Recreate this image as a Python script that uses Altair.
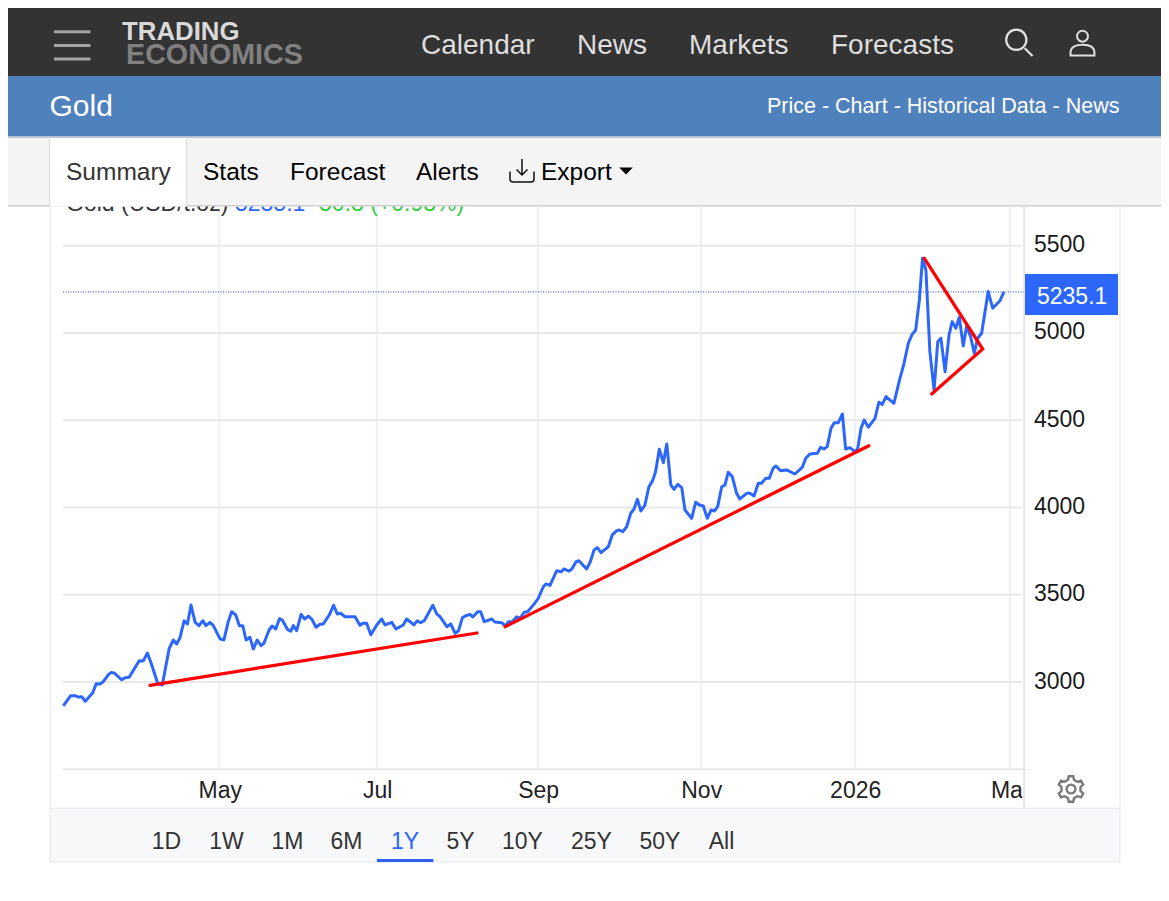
import math
import altair as alt
import pandas as pd

# ---- values -----------------------------------------------------------------
# DAYS counts days since 1 March 2025
DAYS = [0.1,3.0,4.7,6.0,7.3,8.7,11.6,12.9,14.4,15.7,17.7,18.7,19.9,22.9,24.2,25.8,29.7,31.3,32.9,34.6,
        36.9,38.7,41.4,43.0,44.3,45.6,47.2,48.5,49.9,51.5,53.0,54.5,55.7,57.3,58.6,61.2,62.7,64.4,65.7,67.3,
        68.7,70.0,71.3,72.8,74.1,75.6,77.1,78.2,80.2,81.4,82.8,84.2,85.3,87.3,88.6,89.6,90.9,92.6,94.0,95.4,
        96.7,98.4,99.9,101.2,103.5,105.2,106.6,107.9,109.6,113.5,115.4,116.5,118.0,119.6,121.9,123.8,125.1,127.7,129.3,132.1,
        133.4,136.2,137.5,138.8,140.2,143.5,145.0,146.3,148.9,150.4,152.1,153.4,154.9,156.2,157.8,158.9,160.8,161.9,163.3,166.2,
        167.4,170.0,171.5,172.6,174.1,175.8,177.1,178.7,180.0,182.2,184.1,186.0,187.0,188.5,191.0,192.6,193.7,195.6,196.6,198.2,
        199.3,202.2,203.5,205.0,206.2,207.6,210.3,211.8,213.4,214.4,215.7,217.2,218.7,219.9,221.2,222.5,224.0,225.5,226.9,228.0,
        229.4,230.9,232.2,233.7,234.9,236.3,237.8,239.0,241.5,243.0,244.4,245.9,247.5,249.0,250.3,251.6,253.2,254.5,255.8,257.4,
        259.1,260.4,263.1,264.4,266.0,267.7,269.0,270.6,272.0,273.6,274.7,276.5,278.9,282.2,285.1,286.5,288.2,291.1,292.4,293.7,
        295.0,296.5,297.8,299.4,301.0,302.3,304.0,306.0,307.0,308.3,309.5,311.1,313.6,315.1,316.4,317.8,320.8,323.1,324.6,326.3,
        327.8,329.1,330.5,331.7,333.0,334.5,336.1,337.5,338.7,340.3,341.8,343.0,344.4,345.7,347.2,348.5,350.0,351.4,352.7,354.2,
        356.7,358.4,361.2,362.7]
PRICES = [2863,2922,2922,2914,2916,2890,2939,2990,2989,3002,3042,3054,3052,3013,3025,3027,3122,3121,3166,3098,
          2993,2983,3193,3241,3218,3254,3351,3333,3441,3342,3323,3351,3323,3342,3323,3247,3241,3346,3403,3384,
          3323,3323,3241,3256,3189,3241,3208,3222,3298,3321,3304,3363,3355,3302,3291,3323,3294,3388,3361,3378,
          3361,3314,3331,3333,3384,3440,3390,3394,3374,3374,3325,3337,3337,3271,3327,3361,3327,3342,3304,3327,
          3361,3327,3351,3340,3351,3440,3390,3374,3317,3333,3279,3294,3369,3380,3388,3373,3403,3403,3346,3361,
          3344,3340,3321,3346,3346,3374,3365,3400,3403,3441,3480,3546,3562,3554,3638,3631,3648,3636,3646,3688,
          3695,3648,3686,3757,3770,3741,3775,3843,3867,3871,3861,3890,3967,3990,4047,3980,4014,4119,4154,4205,
          4334,4257,4364,4129,4104,4133,4114,3986,3938,4030,4014,4009,3938,3986,3980,4005,4119,4129,4202,4177,
          4081,4049,4081,4081,4066,4139,4139,4167,4167,4225,4238,4211,4215,4192,4230,4282,4307,4311,4345,4335,
          4349,4454,4486,4486,4536,4335,4343,4320,4335,4454,4501,4460,4511,4603,4591,4635,4597,4740,4822,4941,
          4993,5017,5189,5428,5361,4893,4673,4950,4970,4778,4989,5065,5027,5090,4926,5040,4979,4884,4970,4998,
          5237,5142,5185,5235]
LAST_PRICE = 5235.1
TREND_DAYS = [[33.9, 160.5], [171.3, 311.3], [335.2, 354.6, 332.4]]
TREND_PRICES = [[2981, 3281], [3317, 4354], [4650, 4908, 5428]]
Y_TICKS = [3000, 3500, 4000, 4500, 5000, 5500]
Y_GRID = [2500, 3000, 3500, 4000, 4500, 5000, 5500]
X_TICK_DAYS = [61, 122, 184, 245, 306, 365]
X_TICK_LABELS = ["May", "Jul", "Sep", "Nov", "2026", "Mar"]
NAV = ["Calendar", "News", "Markets", "Forecasts"]
TABS = ["Summary", "Stats", "Forecast", "Alerts", "Export"]
RANGES = ["1D", "1W", "1M", "6M", "1Y", "5Y", "10Y", "25Y", "50Y", "All"]

# ---- helpers ----------------------------------------------------------------
BLUE = "#2d66fa"
FONT = "Liberation Sans"
M = 8  # page margin: every page position below is given from the window's corner


x_scale = alt.Scale(
    domain=[0] + X_TICK_DAYS,
    range=[p - M for p in [63, 219.5, 377, 538, 701, 855, 1010]],
    nice=False, zero=False,
)
y_scale = alt.Scale(domain=[2500, 5500], range=[769.3 - M, 245.7 - M], nice=False, zero=False)
X = alt.X("day:Q", scale=x_scale, axis=None)
Y = alt.Y("price:Q", scale=y_scale, axis=None)
one = pd.DataFrame({"a": [0]})


def val(p):
    return alt.value(p - M)


def rects(rows):
    df = pd.DataFrame(rows, columns=["x", "x2", "y", "y2", "c"])
    df[["x", "x2", "y", "y2"]] -= M
    return alt.Chart(df).mark_rect().encode(
        x=alt.X("x:Q", scale=None, axis=None), x2="x2:Q",
        y=alt.Y("y:Q", scale=None, axis=None), y2="y2:Q",
        color=alt.Color("c:N", scale=None),
    )


def texts(rows, align="left", weight="normal"):
    df = pd.DataFrame(rows, columns=["t", "x", "y", "s", "c"])
    df[["x", "y"]] -= M
    return alt.Chart(df).mark_text(align=align, baseline="alphabetic", font=FONT, fontWeight=weight).encode(
        x=alt.X("x:Q", scale=None, axis=None),
        y=alt.Y("y:Q", scale=None, axis=None),
        text="t:N",
        size=alt.Size("s:Q", scale=None),
        color=alt.Color("c:N", scale=None),
    )


def icon(path, cx, cy, extent, stroke=None, width=2, fill=None):
    kw = {"shape": path, "size": (2 * extent) ** 2, "opacity": 1}
    if fill:
        kw.update(filled=True, fill=fill, strokeWidth=0)
    else:
        kw.update(filled=False, stroke=stroke, strokeWidth=width)
    return alt.Chart(one).mark_point(**kw).encode(x=val(cx), y=val(cy))


# ---- chart body -------------------------------------------------------------
series = pd.DataFrame({"day": DAYS, "price": PRICES})
ticks = pd.DataFrame({"day": X_TICK_DAYS, "label": X_TICK_LABELS})

v_grid = alt.Chart(ticks).mark_rule(color="#eef2f7", strokeWidth=2).encode(
    x=X, y=val(206), y2=val(769))
h_grid = alt.Chart(pd.DataFrame({"price": Y_GRID})).mark_rule(color="#e8e8e8", strokeWidth=2).encode(
    y=Y, x=val(63), x2=val(1022))
axis_end = alt.Chart(pd.DataFrame({"price": [2500]})).mark_rule(color="#e8e8e8", strokeWidth=1).encode(
    y=Y, x=val(1022), x2=val(1031))
last_line = alt.Chart(pd.DataFrame({"price": [LAST_PRICE]})).mark_rule(
    color="#1f45e0", strokeWidth=1, strokeDash=[1, 1.5]).encode(y=Y, x=val(63), x2=val(1024))
line = alt.Chart(series).mark_line(color=BLUE, strokeWidth=3, strokeJoin="round").encode(
    x=X, y=Y)
trend_layers = [
    alt.Chart(pd.DataFrame({"day": ds, "price": ps, "o": range(len(ds))}))
    .mark_line(color="#ff0000", strokeWidth=3.2, strokeCap="round")
    .encode(x=X, y=Y, order="o:Q")
    for ds, ps in zip(TREND_DAYS, TREND_PRICES)
]
y_labels = alt.Chart(pd.DataFrame({"price": Y_TICKS})).mark_text(
    align="left", baseline="alphabetic", font=FONT, fontSize=23, dy=6.5, color="#1a1a1a"
).encode(y=Y, x=val(1034), text=alt.Text("price:Q", format="d"))
x_labels = alt.Chart(ticks).mark_text(
    align="center", baseline="alphabetic", font=FONT, fontSize=23, dx=0.7, color="#222222"
).encode(x=X, y=val(798), text="label:N")

quote = texts([
    ["Gold (USD/t.oz)", 66, 211, 23, "#333333"],
    [f"{LAST_PRICE}", 235, 211, 23, BLUE],
    ["50.8 (+0.98%)", 319, 211, 23, "#2ecc40"],
])

# ---- page furniture ---------------------------------------------------------
background = rects([
    [50, 51, 206, 808, "#e8e8e8"],
    [1119.5, 1120.5, 206, 808, "#e8e8e8"],
])
front = rects([
    [0, 1169, 0, 76, "#333333"],
    [0, 1169, 76, 136, "#4f81bd"],
    [0, 1169, 136, 138, "#b4c2d4"],
    [0, 1169, 138, 205, "#f4f4f4"],
    [0, 1169, 205, 206.4, "#cfcfcf"],
    [49.6, 186.6, 138, 206.4, "#ffffff"],
    [49, 50, 137, 206.4, "#dcdcdc"],
    [186.2, 187.2, 137, 206.4, "#dcdcdc"],
    [1022.4, 1060, 771, 808, "#ffffff"],
    [1023.4, 1024.8, 206, 808, "#dddddd"],
    [54, 90.5, 30.2, 33.2, "#a3a3a3"],
    [54, 90.5, 44, 47, "#a3a3a3"],
    [54, 90.5, 57.6, 60.6, "#a3a3a3"],
    [50, 1120, 808, 862, "#f7f8fa"],
    [50, 1120, 807.8, 808.8, "#e4e6ea"],
    [50, 1120, 861.6, 862.6, "#e4e6ea"],
    [49.6, 50.6, 808, 862, "#e4e6ea"],
    [1119.4, 1120.4, 808, 862, "#e4e6ea"],
    [377, 433.4, 859, 862, "#2d5ff0"],
    [1025, 1118, 274, 315, BLUE],
])
logo = texts([
    ["TRADING", 122, 40, 25.8, "#d9d9d9"],
    ["ECONOMICS", 126, 64, 28.7, "#808080"],
], weight="bold")
nav_x = [421, 577, 689, 831]
tab_x = [66, 203, 290, 416, 541]
tab_c = ["#333333", "#000000", "#000000", "#000000", "#000000"]
labels_left = texts(
    [[t, x, 54, 28, "#dedede"] for t, x in zip(NAV, nav_x)]
    + [["Gold", 49.5, 116, 30, "#ffffff"],
       ["Price - Chart - Historical Data - News", 767, 113, 21.5, "#ffffff"]]
    + [[t, x, 180, 24.5, c] for t, x, c in zip(TABS, tab_x, tab_c)]
    + [[f"{LAST_PRICE}", 1037, 304, 23, "#ffffff"]]
)
range_x = [166.5, 226.5, 287.5, 346.5, 405, 460.5, 522.5, 591.5, 660, 721.5]
labels_center = texts(
    [[t, x, 849, 23, BLUE if t == "1Y" else "#333333"] for t, x in zip(RANGES, range_x)],
    align="center",
)

SEARCH = "M0.42,0.42 L1,1 M0.55,-0.2 A0.75,0.75 0 1 0 -0.95,-0.2 A0.75,0.75 0 1 0 0.55,-0.2 Z"
USER = ("M0.42,-0.56 A0.42,0.42 0 1 0 -0.42,-0.56 A0.42,0.42 0 1 0 0.42,-0.56 Z "
        "M-0.92,0.92 L-0.92,0.72 C-0.92,0.2 -0.45,0.1 0,0.1 C0.45,0.1 0.92,0.2 0.92,0.72 L0.92,0.92 Z")
ARROW = "M0,-1 L0,0.4 M-0.5,-0.05 L0,0.45 L0.5,-0.05"
TRAY = "M-1,0.12 L-1,0.75 Q-1,1 -0.75,1 L0.75,1 Q1,1 1,0.75 L1,0.12"
CARET = "M-1,-0.5 L1,-0.5 L0,0.5 Z"


def gear_path():
    pts = []
    for k in range(6):
        a = -90 + 60 * k
        for r, off in [(0.72, -30), (0.76, -17), (1.0, -10), (1.0, 10), (0.76, 17)]:
            t = math.radians(a + off)
            pts.append(f"{r * math.cos(t):.3f},{r * math.sin(t):.3f}")
    ring = "M" + " L".join(pts) + " Z"
    return ring + " M0.34,0 A0.34,0.34 0 1 0 -0.34,0 A0.34,0.34 0 1 0 0.34,0 Z"


icons = [
    icon(SEARCH, 1019, 42.5, 13.5, stroke="#e2e2e2", width=2.2),
    icon(USER, 1082.5, 43.5, 13, stroke="#dedede", width=2),
    icon(ARROW, 522, 170, 11, stroke="#111111", width=1.5),
    icon(TRAY, 522, 170, 12, stroke="#111111", width=1.5),
    icon(CARET, 626, 171, 6.8, fill="#000000"),
    icon(gear_path(), 1071, 789, 13, stroke="#7a7a7a", width=2.4),
]

chart = alt.layer(
    background, v_grid, h_grid, axis_end, last_line, line, *trend_layers,
    y_labels, x_labels, quote, front, logo, labels_left, labels_center, *icons,
).resolve_scale(x="independent", y="independent", color="independent", size="independent").properties(
    width=1153, height=885, padding=0,
    autosize=alt.AutoSizeParams(type="none"),
    background="#ffffff",
).configure_view(strokeWidth=0)

chart.save("out.html", embed_options={"renderer": "svg", "actions": False})
